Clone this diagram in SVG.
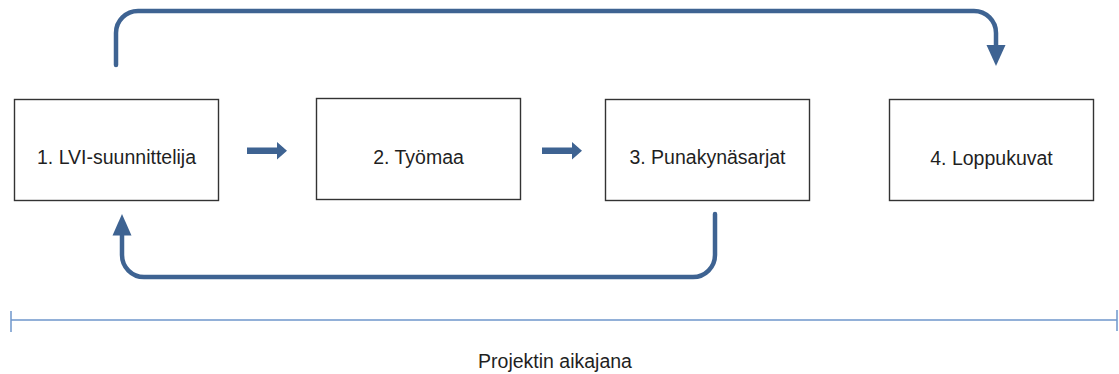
<svg xmlns="http://www.w3.org/2000/svg" width="1119" height="374" viewBox="0 0 1119 374">
  <style>
    .box { fill: #ffffff; stroke: #333333; stroke-width: 1.4; }
    .lbl { font-family: "Liberation Sans", Arial, sans-serif; font-size: 19.5px; fill: #1f1f1f; text-anchor: middle; }
    .flow { fill: none; stroke: #3e6392; stroke-width: 4.5; stroke-linecap: round; }
    .head { fill: #3e6392; }
    .time { fill: none; stroke: #6f97cb; stroke-width: 1.5; }
  </style>
  <rect width="1119" height="374" fill="#ffffff"/>

  <g id="connectors">
    <!-- top loop: 1 -> 4 -->
    <path class="flow" d="M116,65 V33 A22,22 0 0 1 138,11 H974 A22,22 0 0 1 996,33 V47"/>
    <polygon class="head" points="986.5,45 1005.5,45 996,66"/>
    <!-- bottom loop: 3 -> 1 -->
    <path class="flow" d="M715,214 V255 A22,22 0 0 1 693,277 H144 A22,22 0 0 1 122,255 V233"/>
    <polygon class="head" points="112.5,235.5 131.5,235.5 122,214"/>
    <!-- block arrows -->
    <polygon class="head" points="247,147.5 277,147.5 277,142 287,150.7 277,159.4 277,154 247,154"/>
    <polygon class="head" points="542,147.5 572,147.5 572,142 582,150.7 572,159.4 572,154 542,154"/>
  </g>

  <g id="node1">
    <rect class="box" x="14.5" y="99.5" width="204" height="101"/>
    <text class="lbl" x="116.5" y="164">1. LVI-suunnittelija</text>
  </g>
  <g id="node2">
    <rect class="box" x="316.5" y="98.5" width="204" height="101"/>
    <text class="lbl" x="418.5" y="164">2. Työmaa</text>
  </g>
  <g id="node3">
    <rect class="box" x="605.5" y="99.5" width="204" height="101"/>
    <text class="lbl" x="707.5" y="164">3. Punakynäsarjat</text>
  </g>
  <g id="node4">
    <rect class="box" x="889.5" y="99.5" width="204" height="101"/>
    <text class="lbl" x="991.5" y="165">4. Loppukuvat</text>
  </g>

  <g id="timeline">
    <path class="time" d="M11,320 H1117 M11,311 V332 M1117,310 V331"/>
    <text class="lbl" x="555" y="368">Projektin aikajana</text>
  </g>
</svg>
